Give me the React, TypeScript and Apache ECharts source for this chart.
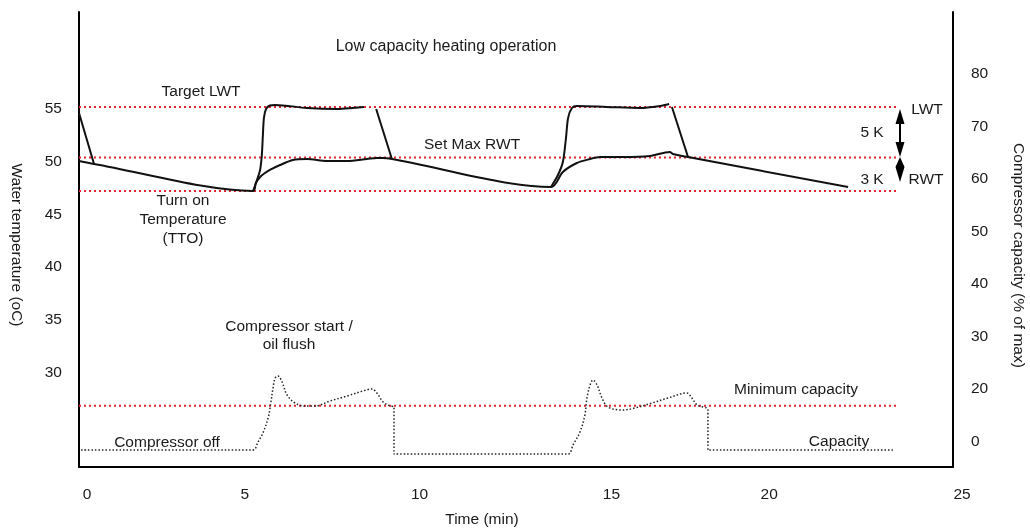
import React, { useEffect, useRef } from "react";
import * as echarts from "echarts";

// ---- axis ticks / labels ----
const X_TICKS = [0, 5, 10, 15, 20, 25];
const LEFT_TICKS = [30, 35, 40, 45, 50, 55];
const RIGHT_TICKS = [10, 20, 30, 40, 50, 60, 70, 80];
const RIGHT_TICK_LABELS = ["0", "20", "30", "40", "50", "60", "70", "80"];
const X_MIN = 0;
const X_MAX = 25;
const LEFT_MIN = 20.875;
const LEFT_MAX = 64.125;
const RIGHT_MIN = 4.952;
const RIGHT_MAX = 91.619;

// ---- reference levels ----
const TARGET_LWT = 55.1;
const SET_MAX_RWT = 50.3;
const TURN_ON_TEMP = 47.1;
const MIN_CAPACITY = 16.6;
const REF_LINE_END = 23.45;

// ---- leaving water temperature (gaps = null; repeated points keep corners sharp) ----
const LWT: (number | null)[][] = [
  [0, 54.52], [0.43, 49.68],
  [2.7, null],
  [4.98, 47.11], [5.09, 48.16], [5.18, 49.11], [5.23, 50.53], [5.26, 52.43], [5.29, 54.05], [5.35, 54.9],
  [5.46, 55.24], [5.61, 55.29], [6.52, 55.0], [7.38, 54.9], [7.84, 55.0], [8.15, 55.1],
  [8.3, null],
  [8.5, 54.9], [8.95, 50.15],
  [11.2, null],
  [13.5, 47.49], [13.7, 48.63], [13.84, 49.87], [13.93, 52.15], [13.99, 54.05], [14.1, 55.0], [14.24, 55.19],
  [15.1, 55.1], [16.05, 55.0], [16.62, 55.19], [16.88, 55.38],
  [16.92, null],
  [16.96, 55.1], [17.42, 50.34],
];

// ---- return water temperature ----
const RWT: number[][] = [
  [0, 49.96], [0.43, 49.68], [4.98, 47.11], [4.98, 47.11],
  [5.06, 47.87], [5.18, 48.44], [5.32, 48.82], [5.46, 49.11], [5.75, 49.58], [6.12, 50.06], [6.52, 50.15],
  [7.09, 49.96], [7.67, 49.96], [8.24, 50.15], [8.52, 50.25], [8.7, 50.25], [8.95, 50.15], [8.95, 50.15],
  [13.5, 47.49], [13.5, 47.49],
  [13.84, 48.92], [14.24, 49.77], [14.62, 50.15], [14.9, 50.34], [15.56, 50.34], [16.33, 50.44],
  [16.9, 50.82], [16.99, 50.63], [17.42, 50.34], [17.42, 50.34],
  [22.0, 47.49],
];

// ---- compressor capacity ----
const CAPACITY: number[][] = [
  [0.06, 8.19], [4.98, 8.19], [4.98, 8.19],
  [5.12, 9.71], [5.26, 11.43], [5.41, 14.29], [5.49, 17.33], [5.55, 20.0], [5.61, 21.9], [5.69, 22.29],
  [5.81, 21.14], [5.95, 18.67], [6.18, 17.14], [6.46, 16.57], [6.75, 16.57], [7.18, 17.52], [7.67, 18.48],
  [8.12, 19.43], [8.38, 19.81], [8.52, 19.05], [8.7, 17.33], [8.9, 16.57], [9.01, 16.38], [9.01, 16.38],
  [9.01, 7.43], [9.01, 7.43], [13.99, 7.43], [13.99, 7.43],
  [14.13, 9.14], [14.33, 11.62], [14.47, 14.86], [14.53, 18.1], [14.62, 20.57], [14.7, 21.52],
  [14.82, 20.57], [14.96, 18.1], [15.13, 16.38], [15.53, 15.81], [15.9, 16.19], [16.39, 17.14],
  [16.85, 18.1], [17.39, 19.05], [17.53, 18.1], [17.68, 16.76], [17.99, 15.81], [17.99, 15.81],
  [17.99, 8.19], [17.99, 8.19], [23.28, 8.19],
];

const FONT = "'Liberation Sans', Arial, Helvetica, sans-serif";
const TEXT = "#1a1a1a";
const RED = "#e3262e";
const FS = 15.5;
// hand-placed x tick labels in the original sit a few px off their ticks (px, + = right)
const X_LABEL_NUDGE = [8, -9, -9, 8, -9, 9];

export default function App() {
  const ref = useRef<HTMLDivElement>(null);

  useEffect(() => {
    const chart = echarts.init(ref.current!, null, { renderer: "svg" });

    const refLine = (name: string, value: number, yAxisIndex: number) => ({
      name,
      type: "line",
      yAxisIndex,
      data: [[X_MIN, value], [REF_LINE_END, value]],
      showSymbol: false,
      silent: true,
      z: 1,
      lineStyle: { color: RED, width: 2, type: [2, 3] },
    });

    const txt = (text: string, x: number, y: number, lineHeight = 19, fontSize = FS) => ({
      type: "text",
      x,
      y,
      silent: true,
      style: {
        text,
        fill: TEXT,
        fontSize,
        fontFamily: FONT,
        align: "center",
        verticalAlign: "middle",
        lineHeight,
      },
    });

    const tri = (points: number[][]) => ({
      type: "polygon",
      silent: true,
      shape: { points },
      style: { fill: "#000" },
    });

    const axisText = { color: TEXT, fontSize: FS, fontFamily: FONT };

    const xRich: Record<string, any> = {};
    X_LABEL_NUDGE.forEach((n, i) => {
      xRich["n" + i] = {
        ...axisText,
        padding: n >= 0 ? [0, 0, 0, 2 * n] : [0, -2 * n, 0, 0],
      };
    });

    chart.setOption({
      animation: false,
      grid: {
        left: 79,
        top: 12,
        width: 874,
        height: 455,
        containLabel: false,
        outerBoundsMode: "none",
      },
      xAxis: {
        type: "value",
        min: X_MIN,
        max: X_MAX,
        axisLine: { show: true, onZero: false, lineStyle: { color: "#000", width: 2 } },
        axisTick: { show: false },
        splitLine: { show: false },
        axisLabel: {
          ...axisText,
          customValues: X_TICKS,
          margin: 18,
          formatter: (v: number) => {
            const i = X_TICKS.indexOf(v);
            return i >= 0 ? `{n${i}|${v}}` : String(v);
          },
          rich: xRich,
        },
        name: "Time (min)",
        nameLocation: "middle",
        nameGap: 43,
        nameTextStyle: { ...axisText, padding: [0, 68, 0, 0] },
      },
      yAxis: [
        {
          type: "value",
          position: "left",
          min: LEFT_MIN,
          max: LEFT_MAX,
          axisLine: { show: true, onZero: false, lineStyle: { color: "#000", width: 2 } },
          axisTick: { show: false },
          splitLine: { show: false },
          axisLabel: { ...axisText, customValues: LEFT_TICKS, margin: 17 },
          name: "Water temperature (oC)",
          nameLocation: "middle",
          nameRotate: -90,
          nameGap: 54,
          nameTextStyle: { ...axisText, padding: [0, 0, 0, 11] },
        },
        {
          type: "value",
          position: "right",
          min: RIGHT_MIN,
          max: RIGHT_MAX,
          axisLine: { show: true, onZero: false, lineStyle: { color: "#000", width: 2 } },
          axisTick: { show: false },
          splitLine: { show: false },
          axisLabel: {
            ...axisText,
            customValues: RIGHT_TICKS,
            margin: 18,
            formatter: (v: number) => {
              const i = RIGHT_TICKS.indexOf(v);
              return i >= 0 ? RIGHT_TICK_LABELS[i] : String(v);
            },
          },
          name: "Compressor capacity (% of max)",
          nameLocation: "middle",
          nameRotate: -90,
          nameGap: 58,
          nameTextStyle: { ...axisText, padding: [0, 0, 0, 32] },
        },
      ],
      series: [
        refLine("Target LWT", TARGET_LWT, 0),
        refLine("Set Max RWT", SET_MAX_RWT, 0),
        refLine("Turn on Temperature", TURN_ON_TEMP, 0),
        refLine("Minimum capacity", MIN_CAPACITY, 1),
        {
          name: "LWT",
          type: "line",
          yAxisIndex: 0,
          data: LWT,
          showSymbol: false,
          smooth: 0.3,
          connectNulls: false,
          z: 3,
          lineStyle: { color: "#111", width: 2 },
        },
        {
          name: "RWT",
          type: "line",
          yAxisIndex: 0,
          data: RWT,
          showSymbol: false,
          smooth: 0.3,
          z: 3,
          lineStyle: { color: "#111", width: 2 },
        },
        {
          name: "Capacity",
          type: "line",
          yAxisIndex: 1,
          data: CAPACITY,
          showSymbol: false,
          smooth: 0.35,
          z: 2,
          lineStyle: { color: "#222", width: 1.5, type: [1.5, 2] },
        },
      ],
      graphic: [
        txt("Low capacity heating operation", 446, 45, 19, 16),
        txt("Target LWT", 201, 90),
        txt("Turn on\nTemperature\n(TTO)", 183, 218),
        txt("Set Max RWT", 472, 143),
        txt("Compressor start /\noil flush", 289, 334, 18),
        txt("Compressor off", 167, 441),
        txt("Minimum capacity", 796, 388),
        txt("Capacity", 839, 440),
        txt("LWT", 927, 108),
        txt("5 K", 872, 131),
        txt("3 K", 872, 178),
        txt("RWT", 926, 178),
        {
          type: "line",
          silent: true,
          shape: { x1: 900, y1: 120, x2: 900, y2: 146 },
          style: { stroke: "#000", lineWidth: 2 },
        },
        tri([[900, 109], [895.5, 124], [904.5, 124]]),
        tri([[900, 157], [895.5, 142], [904.5, 142]]),
        tri([[900, 157], [895.5, 167], [904.5, 167]]),
        tri([[900, 182], [895.5, 167], [904.5, 167]]),
      ],
    });

    return () => chart.dispose();
  }, []);

  return (
    <div
      ref={ref}
      style={{ position: "fixed", left: 0, top: 0, width: 1030, height: 530 }}
    />
  );
}
